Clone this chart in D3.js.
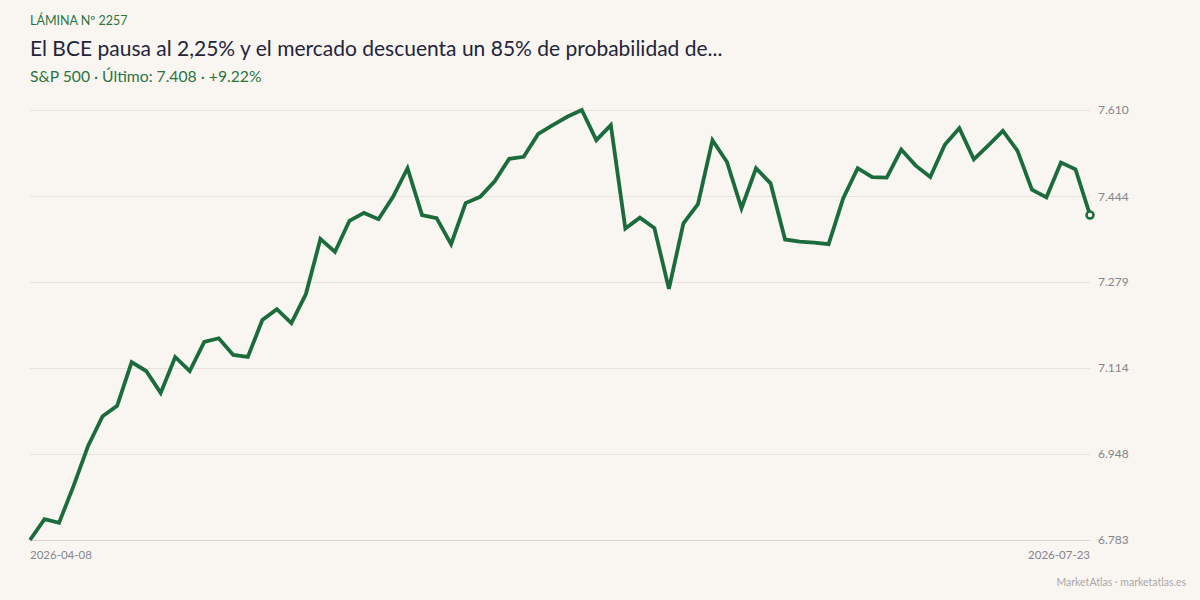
<!DOCTYPE html>
<html>
<head>
<meta charset="utf-8">
<script src="https://cdn.jsdelivr.net/npm/d3@7"></script>
<style>
  body { margin: 0; background: #f9f6f1; }
  svg { display: block; font-family: Lato, "Open Sans", sans-serif; }
</style>
</head>
<body>
<svg id="chart"></svg>
<script>
// S&P 500 closes, trading days 2026-04-08 .. 2026-07-23
const values = [
  6783, 6823, 6816, 6887, 6964, 7021, 7041, 7125, 7108, 7066,
  7135, 7108, 7164, 7171, 7139, 7135, 7206, 7227, 7200, 7256,
  7362, 7337, 7397, 7412, 7400, 7443, 7498, 7408, 7402, 7352,
  7431, 7443, 7473, 7516, 7520, 7564, 7581, 7597, 7610, 7552,
  7581, 7382, 7403, 7383, 7266, 7392, 7429, 7552, 7510, 7421,
  7498, 7469, 7361, 7357, 7355, 7352, 7440, 7498, 7481, 7480,
  7534, 7503, 7481, 7543, 7575, 7515, 7542, 7570, 7532, 7457,
  7442, 7509, 7496, 7408
];
const dateLabels = ["2026-04-08", "2026-07-23"];
const yTicks = [6783, 6948, 7114, 7279, 7444, 7610];

const kicker = "LÁMINA Nº 2257";
const title = "El BCE pausa al 2,25% y el mercado descuenta un 85% de probabilidad de...";
const subtitle = "S&P 500 · Último: 7.408 · +9.22%";
const footer = "MarketAtlas · marketatlas.es";

const width = 1200, height = 600;
const margin = { top: 110, right: 110, bottom: 60, left: 30 };
const green = "#1b6b3c";

const svg = d3.select("#chart")
  .attr("width", width)
  .attr("height", height);

svg.append("rect").attr("width", width).attr("height", height).attr("fill", "#f9f6f1");

const x = d3.scaleLinear()
  .domain([0, values.length - 1])
  .range([margin.left, width - margin.right]);

const y = d3.scaleLinear()
  .domain([yTicks[0], yTicks[yTicks.length - 1]])
  .range([height - margin.bottom, margin.top]);

const fmt = v => d3.format(",")(v).replace(/,/g, ".");

// grid + right labels
const grid = svg.append("g");
grid.selectAll("line")
  .data(yTicks)
  .join("line")
    .attr("x1", x.range()[0])
    .attr("x2", x.range()[1])
    .attr("y1", d => Math.round(y(d)) + 0.5)
    .attr("y2", d => Math.round(y(d)) + 0.5)
    .attr("stroke", (d, i) => i === 0 ? "#d9d3c9" : "#e7e2da")
    .attr("stroke-width", 1);

grid.selectAll("text")
  .data(yTicks)
  .join("text")
    .attr("x", x.range()[1] + 8)
    .attr("y", d => y(d))
    .attr("dy", "0.35em")
    .attr("font-size", 12)
    .attr("fill", "#85848e")
    .text(fmt);

// date labels
svg.append("text")
  .attr("x", x(0))
  .attr("y", height - margin.bottom + 19)
  .attr("font-size", 11.5)
  .attr("fill", "#85848e")
  .text(dateLabels[0]);

svg.append("text")
  .attr("x", x(values.length - 1))
  .attr("y", height - margin.bottom + 19)
  .attr("text-anchor", "end")
  .attr("font-size", 11.5)
  .attr("fill", "#85848e")
  .text(dateLabels[1]);

// the line
const line = d3.line()
  .x((d, i) => x(i))
  .y(d => y(d));

svg.append("path")
  .datum(values)
  .attr("fill", "none")
  .attr("stroke", green)
  .attr("stroke-width", 3.8)
  .attr("stroke-linejoin", "miter")
  .attr("d", line);

svg.append("circle")
  .attr("cx", x(values.length - 1))
  .attr("cy", y(values[values.length - 1]))
  .attr("r", 3.5)
  .attr("fill", "#f9f6f1")
  .attr("stroke", green)
  .attr("stroke-width", 2.5);

// header
svg.append("text")
  .attr("x", 30).attr("y", 25)
  .attr("font-size", 12.5)
  .attr("fill", "#2c7340")
  .text(kicker);

svg.append("text")
  .attr("x", 30).attr("y", 56)
  .attr("font-size", 21)
  .attr("fill", "#24253a")
  .text(title);

svg.append("text")
  .attr("x", 30).attr("y", 82)
  .attr("font-size", 15.7)
  .attr("fill", "#2c7340")
  .text(subtitle);

svg.append("text")
  .attr("x", 1186).attr("y", 586)
  .attr("text-anchor", "end")
  .attr("font-size", 10.5)
  .attr("fill", "#a9a7a9")
  .text(footer);
</script>
</body>
</html>
